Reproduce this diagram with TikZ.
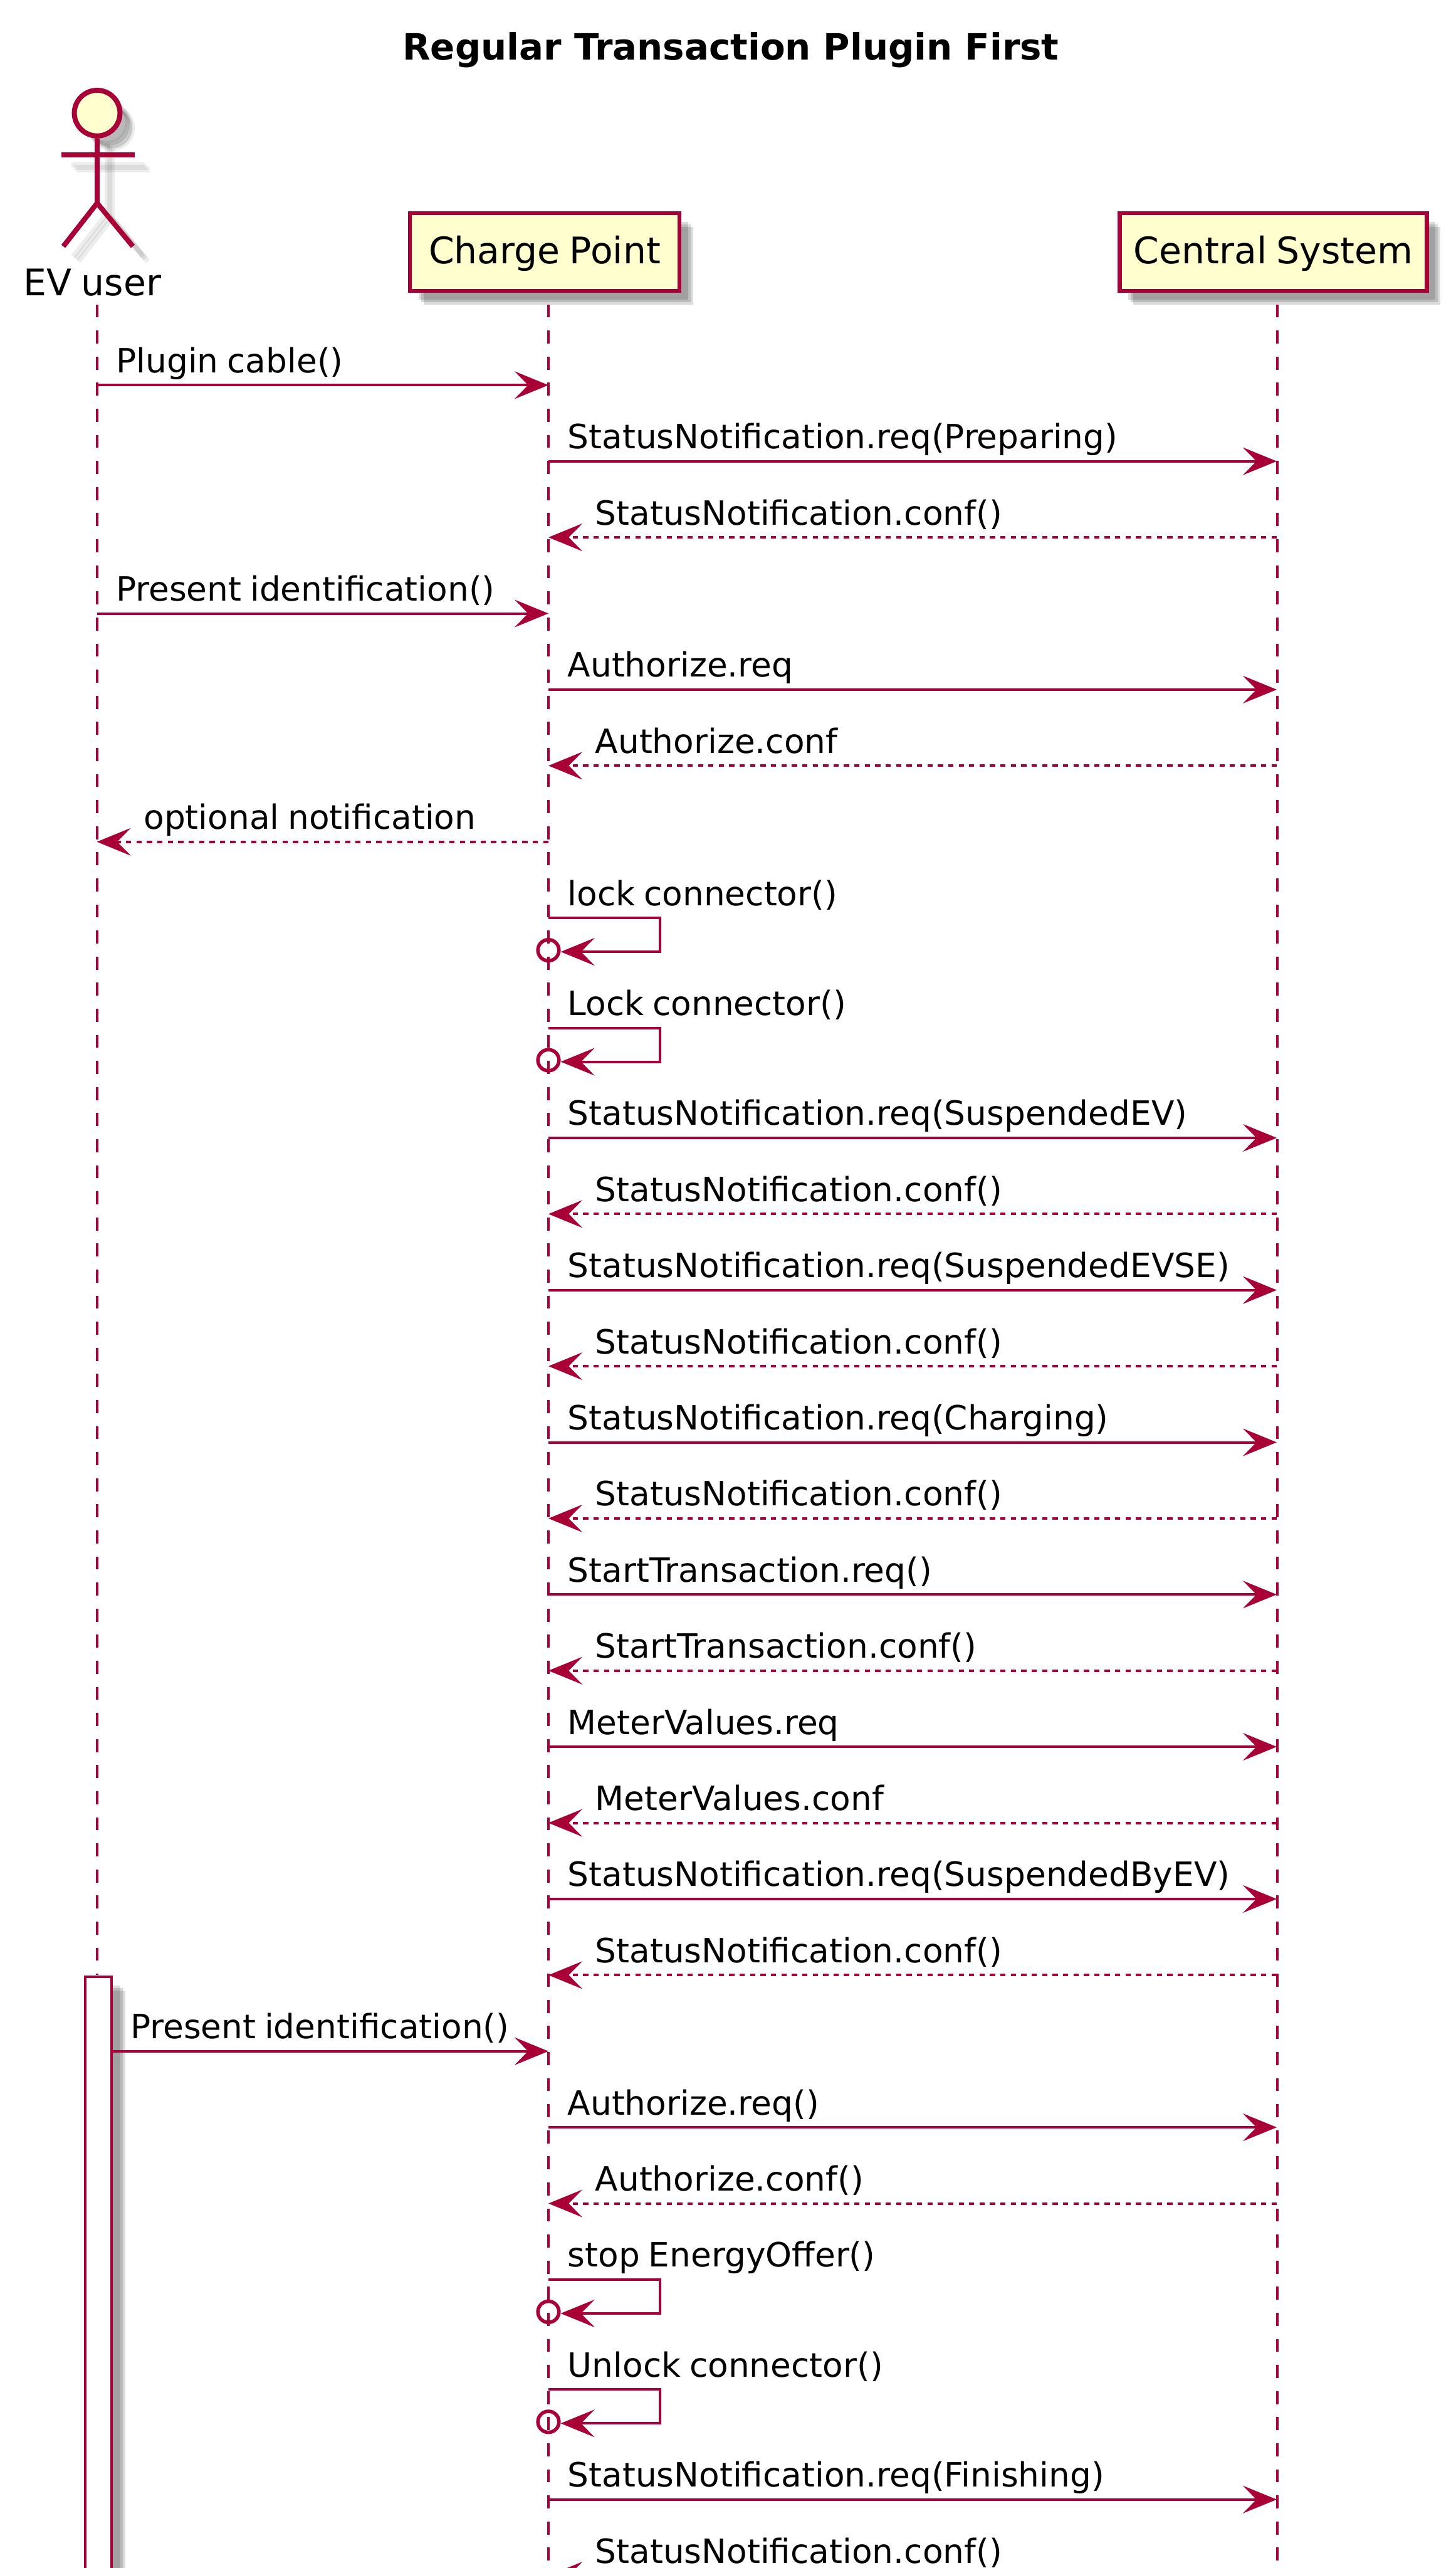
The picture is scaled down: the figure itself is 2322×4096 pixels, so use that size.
\documentclass[tikz,border=0pt]{standalone}
\usepackage{fontspec}
\setmainfont{DejaVu Sans}
\usepackage{xcolor}
\definecolor{PlumRed}{HTML}{A80036}
\definecolor{PlumFill}{HTML}{FEFECE}
\usetikzlibrary{arrows.meta}
\usetikzlibrary{positioning}
\usetikzlibrary{shadows}

\newcommand{\tightspace}{\spaceskip=.26em\relax}

\tikzset{
  softshadow/.style={
    drop shadow={shadow xshift=3.5pt,shadow yshift=-3.5pt,fill=black,opacity=.14},
    drop shadow={shadow xshift=4.5pt,shadow yshift=-4.5pt,fill=black,opacity=.14},
    drop shadow={shadow xshift=5.5pt,shadow yshift=-5.5pt,fill=black,opacity=.14}},
  partbox/.style={
    shape=rectangle,
    draw=PlumRed,
    fill=PlumFill,
    line width=1.6pt,
    minimum height=31pt,
    text height=14pt,
    text depth=4.5pt,
    inner xsep=0pt,
    font=\fontsize{14.6}{17}\selectfont\tightspace,
    softshadow},
  lifeline/.style={draw=PlumRed,line width=1pt,dash pattern=on 5.2pt off 5.2pt},
  call/.style={draw=PlumRed,line width=1pt,
    -{Stealth[length=13.5pt,width=11pt,inset=5.4pt,fill=PlumRed]}},
  reply/.style={call,dash pattern=on 2.08pt off 2.08pt},
  msglabel/.style={anchor=base west,inner sep=0pt,xshift=7.5pt,yshift=5pt,
    font=\fontsize{13.33}{16}\selectfont\tightspace},
  backlabel/.style={msglabel,xshift=11pt},
  stopring/.style={shape=circle,draw=PlumRed,line width=1.4pt,minimum size=8.4pt,inner sep=0pt},
  actorline/.style={draw=PlumRed,line width=2pt},
  actorshade/.style={draw=black,line width=2pt,opacity=.07}
}

\begin{document}
\begin{tikzpicture}[x=0.25pt,y=-0.25pt]
    \clip (0,0) rectangle (2322,4096);

    \node[name=title,
      font=\fontsize{14.45}{17}\bfseries\selectfont,
      anchor=base,
      inner sep=0pt] at (1166,96) {Regular Transaction Plugin First};

    % stick figure shadow, then figure
    \foreach \s in {16,20,24} {
      \draw[actorshade,fill=black,fill opacity=.1,xshift=\s*.25pt,yshift=-\s*.25pt]
        (155,180.4) circle [radius=8.1pt];
      \draw[actorshade,xshift=\s*.25pt,yshift=-\s*.25pt] (98,247.4) -- (215,247.4);
      \draw[actorshade,xshift=\s*.25pt,yshift=-\s*.25pt]
        (155,213) -- (155,324) (101,393) -- (155,324) -- (212,393);
    }
    \node[name=userhead,
      shape=circle,
      draw=PlumRed,
      fill=PlumFill,
      line width=2pt,
      minimum size=18.2pt,
      inner sep=0pt] at (155,180.4) {};
    \coordinate (armleft) at (98,247.4);
    \coordinate (armright) at (215,247.4);
    \coordinate (hip) at (155,324);
    \coordinate (footleft) at (101,393);
    \coordinate (footright) at (212,393);
    \draw[actorline] (armleft) -- (armright);
    \draw[actorline] (userhead) -- (hip);
    \draw[actorline] (footleft) -- (hip) -- (footright);
    \node[name=username,
      font=\fontsize{14.6}{17}\selectfont\tightspace,
      anchor=base,
      inner sep=0pt] at (147.5,472) {EV user};

    \node[name=chargept,partbox,minimum width=107.5pt] at (869,402) {Charge Point};
    \node[name=centsys,partbox,minimum width=122.5pt,
      right=174pt of chargept] {Central System};

    \coordinate (usertop) at (154.6,485.7);
    \coordinate (cptop) at (875,485.7);
    \coordinate (cstop) at (2038,485.7);
    \coordinate (userend) at (154.6,3150);
    \coordinate (cpend) at (875,4120);
    \coordinate (csend) at (2038,4120);
    \path (usertop) edge[lifeline] (userend);
    \path (cptop) edge[lifeline] (cpend);
    \path (cstop) edge[lifeline] (csend);

    \node[name=userbar,
      shape=rectangle,
      anchor=north west,
      draw=PlumRed,
      fill=white,
      line width=1.1pt,
      minimum width=10.5pt,
      minimum height=270pt,
      softshadow] at (134,3151) {};

    % one row per message
    \foreach \r/\y in {1/614.3,2/735.7,3/857.1,4/978.5,5/1099.9,6/1221.3,7/1342.7,
        10/1814.9,11/1936.3,12/2057.7,13/2179.1,14/2300.5,15/2421.9,16/2543.3,
        17/2664.7,18/2786.1,19/2907.5,20/3028.9,21/3150.3,22/3271.7,23/3393.1,
        24/3514.5,27/3986.7,28/4108.1} {
      \coordinate (user\r) at (154.6,\y);
      \coordinate (cp\r) at (875,\y);
      \coordinate (cs\r) at (2037,\y);
    }
    \coordinate (bar22) at (177.5,3271.7);

    \path (user1) edge[call] (cp1);
    \node[name=msg1,msglabel] at (user1) {Plugin cable()};
    \path (cp2) edge[call] (cs2);
    \node[name=msg2,msglabel] at (cp2) {StatusNotification.req(Preparing)};
    \path (cs3) edge[reply] (cp3);
    \node[name=msg3,backlabel] at (cp3) {StatusNotification.conf()};
    \path (user4) edge[call] (cp4);
    \node[name=msg4,msglabel] at (user4) {Present identification()};
    \path (cp5) edge[call] (cs5);
    \node[name=msg5,msglabel] at (cp5) {Authorize.req};
    \path (cs6) edge[reply] (cp6);
    \node[name=msg6,backlabel] at (cp6) {Authorize.conf};
    \path (cp7) edge[reply] (user7);
    \node[name=msg7,backlabel] at (user7) {optional notification};
    \path (cp10) edge[call] (cs10);
    \node[name=msg10,msglabel] at (cp10) {StatusNotification.req(SuspendedEV)};
    \path (cs11) edge[reply] (cp11);
    \node[name=msg11,backlabel] at (cp11) {StatusNotification.conf()};
    \path (cp12) edge[call] (cs12);
    \node[name=msg12,msglabel] at (cp12) {StatusNotification.req(SuspendedEVSE)};
    \path (cs13) edge[reply] (cp13);
    \node[name=msg13,backlabel] at (cp13) {StatusNotification.conf()};
    \path (cp14) edge[call] (cs14);
    \node[name=msg14,msglabel] at (cp14) {StatusNotification.req(Charging)};
    \path (cs15) edge[reply] (cp15);
    \node[name=msg15,backlabel] at (cp15) {StatusNotification.conf()};
    \path (cp16) edge[call] (cs16);
    \node[name=msg16,msglabel] at (cp16) {StartTransaction.req()};
    \path (cs17) edge[reply] (cp17);
    \node[name=msg17,backlabel] at (cp17) {StartTransaction.conf()};
    \path (cp18) edge[call] (cs18);
    \node[name=msg18,msglabel] at (cp18) {MeterValues.req};
    \path (cs19) edge[reply] (cp19);
    \node[name=msg19,backlabel] at (cp19) {MeterValues.conf};
    \path (cp20) edge[call] (cs20);
    \node[name=msg20,msglabel] at (cp20) {StatusNotification.req(SuspendedByEV)};
    \path (cs21) edge[reply] (cp21);
    \node[name=msg21,backlabel] at (cp21) {StatusNotification.conf()};
    \path (bar22) edge[call] (cp22);
    \node[name=msg22,msglabel] at (bar22) {Present identification()};
    \path (cp23) edge[call] (cs23);
    \node[name=msg23,msglabel] at (cp23) {Authorize.req()};
    \path (cs24) edge[reply] (cp24);
    \node[name=msg24,backlabel] at (cp24) {Authorize.conf()};
    \path (cp27) edge[call] (cs27);
    \node[name=msg27,msglabel] at (cp27) {StatusNotification.req(Finishing)};
    \path (cs28) edge[reply] (cp28);
    \node[name=msg28,backlabel] at (cp28) {StatusNotification.conf()};

    % self messages on the charge point
    \foreach \r/\y/\txt in {8/1464.1/lock connector(),9/1639.5/Lock connector(),
        25/3635.9/stop EnergyOffer(),26/3811.3/Unlock connector()} {
      \coordinate (cp\r) at (875,\y);
      \coordinate (loopa\r) at (1052.6,\y);
      \coordinate (loopb\r) at (1052.6,\y+54);
      \node[name=ring\r,stopring] at (875,\y+51.5) {};
      \coordinate (back\r) at (ring\r.east |- loopb\r);
      \draw[call] (cp\r) -- (loopa\r) -- (loopb\r) -- (back\r);
      \node[name=msg\r,msglabel] at (cp\r) {\txt};
    }
\end{tikzpicture}
\end{document}
